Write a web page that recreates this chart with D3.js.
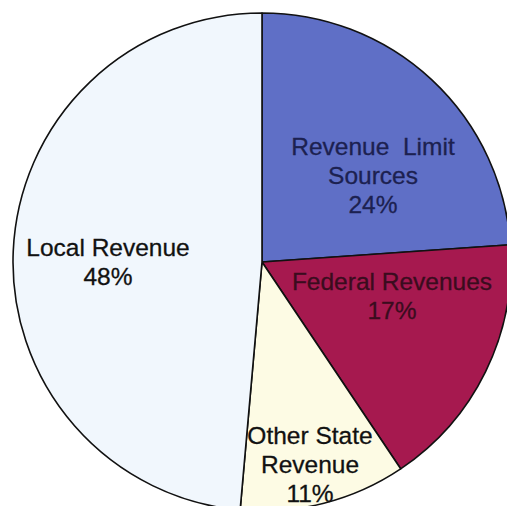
<!DOCTYPE html>
<html>
<head>
<meta charset="utf-8">
<script src="https://cdn.jsdelivr.net/npm/d3@7"></script>
<style>
  html, body { margin: 0; padding: 0; background: #fff; }
  svg { display: block; }
  .lbl { font-family: "Liberation Sans", Arial, sans-serif; font-size: 24.5px; white-space: pre; }
</style>
</head>
<body>
<svg id="chart"></svg>
<script>
// ── DATA ──────────────────────────────────────────────
const categories = ["Revenue  Limit\nSources", "Federal Revenues", "Other State\nRevenue", "Local Revenue"];
// slice sizes (labels are printed rounded)
const shares     = [23.9, 16.7, 10.8, 48.6];
const percentLabels = ["24%", "17%", "11%", "48%"];

// ── LAYOUT ────────────────────────────────────────────
const width = 507, height = 506;
const cx = 262, cy = 262, radius = 249;

const fills     = ["#5f6fc6", "#a6194f", "#fdfbe4", "#f1f7fd"];
const textFills = ["#1c2150", "#3a0c1e", "#111", "#111"];
// label block position (first baseline), made relative to pie centre
const labelPos = [[373, 155], [392, 290], [310, 444], [108, 256]].map(([x, y]) => [x - cx, y - cy]);

const svg = d3.select("#chart")
  .attr("width", width)
  .attr("height", height);

const g = svg.append("g").attr("transform", `translate(${cx},${cy})`);

const pie = d3.pie().sort(null).value(d => d.value);
const arc = d3.arc().innerRadius(0).outerRadius(radius);

const rows = categories.map((c, i) => ({ name: c, value: shares[i], pct: percentLabels[i], i }));

g.selectAll("path")
  .data(pie(rows))
  .join("path")
    .attr("d", arc)
    .attr("fill", d => fills[d.data.i])
    .attr("stroke", "#111")
    .attr("stroke-width", 1.6)
    .attr("stroke-linejoin", "round");

// labels
rows.forEach((d, i) => {
  const lines = d.name.split("\n").concat([d.pct]);
  const t = g.append("text")
    .attr("class", "lbl")
    .attr("text-anchor", "middle")
    .attr("fill", textFills[i])
    .attr("stroke", textFills[i])
    .attr("stroke-width", 0.3)
    .attr("x", labelPos[i][0])
    .attr("y", labelPos[i][1]);
  lines.forEach((line, k) => {
    t.append("tspan")
      .attr("x", labelPos[i][0])
      .attr("dy", k === 0 ? 0 : 29)
      .text(line);
  });
});
</script>
</body>
</html>
